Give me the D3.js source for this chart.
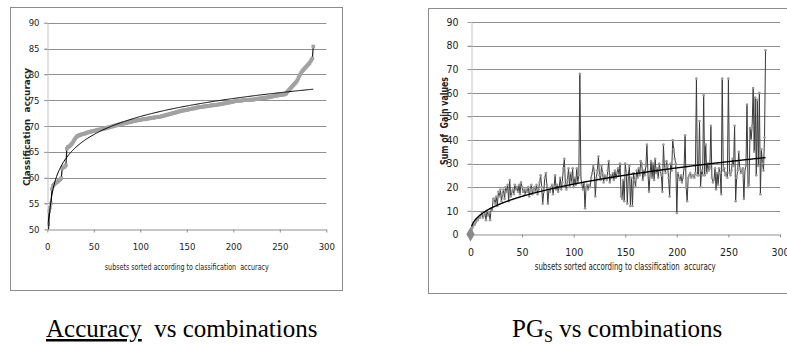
<!DOCTYPE html>
<html>
<head>
<meta charset="utf-8">
<script src="https://cdn.jsdelivr.net/npm/d3@7"></script>
<style>
  body { margin: 0; background: #fff; }
  svg { display: block; }
  .tick-label { font-family: "Liberation Sans Narrow", "DejaVu Sans Condensed", "Liberation Sans", sans-serif; fill: #222; }
  .axis-title { font-family: "Liberation Sans Narrow", "DejaVu Sans Condensed", "Liberation Sans", sans-serif; fill: #222; }
  .caption { font-family: "Liberation Serif", "Times New Roman", serif; fill: #000; }
</style>
</head>
<body>
<svg id="fig" width="787" height="344"></svg>
<script>
// sorted classification accuracy of the 286 subsets (x = 1..286)
const accuracy = [
  51.0, 53.5, 54.2, 55.0, 57.8,
  58.4, 58.6, 58.8, 59.0, 59.1, 59.2, 59.4, 59.5, 59.7, 59.9,
  61.8, 62.0, 62.0, 62.2, 62.4,
  65.6, 65.9, 66.0, 66.1, 66.3, 66.5, 66.7,
  67.0, 67.3, 67.6, 67.8, 68.0, 68.1, 68.2,
  68.3, 68.3, 68.4, 68.4, 68.5, 68.5, 68.6,
  68.7, 68.7, 68.8, 68.8, 68.9, 68.9, 69.0, 69.0, 69.0, 69.1, 69.1,
  69.2, 69.2, 69.3, 69.3, 69.3, 69.4, 69.4, 69.5, 69.5, 69.5, 69.6,
  69.6, 69.7, 69.7, 69.8, 69.8, 69.9, 69.9, 70.0, 70.0, 70.1, 70.1, 70.2, 70.2, 70.3,
  70.3, 70.4, 70.4, 70.5, 70.5, 70.5, 70.6, 70.6, 70.7, 70.7, 70.7, 70.8, 70.8, 70.9, 70.9,
  71.0, 71.0, 71.0, 71.1, 71.1, 71.1, 71.2, 71.2, 71.2, 71.3, 71.3, 71.3, 71.3, 71.4, 71.4, 71.4, 71.5, 71.5,
  71.5, 71.6, 71.6, 71.6, 71.6, 71.7, 71.7, 71.7, 71.7, 71.8, 71.8, 71.8, 71.9, 71.9,
  72.0, 72.0, 72.1, 72.1, 72.2, 72.2, 72.3, 72.3, 72.4, 72.4, 72.5, 72.5, 72.6, 72.6, 72.7, 72.7, 72.8, 72.8,
  72.9, 72.9, 73.0, 73.0, 73.0, 73.1, 73.1, 73.1, 73.2, 73.2, 73.3, 73.3, 73.3, 73.4, 73.4, 73.4, 73.5, 73.5, 73.6,
  73.6, 73.6, 73.7, 73.7, 73.7, 73.7, 73.8, 73.8, 73.8, 73.8, 73.9, 73.9, 73.9, 73.9, 74.0, 74.0, 74.0, 74.0, 74.1, 74.1, 74.1, 74.1, 74.2, 74.2, 74.2,
  74.3, 74.3, 74.3, 74.4, 74.4, 74.4, 74.5, 74.5, 74.5, 74.6, 74.6, 74.6, 74.7, 74.7,
  74.8, 74.8, 74.8, 74.8, 74.9, 74.9, 74.9, 74.9, 74.9, 75.0, 75.0, 75.0, 75.0, 75.0, 75.0, 75.0, 75.0, 75.1, 75.1, 75.1, 75.1, 75.1, 75.2, 75.2, 75.2,
  75.3, 75.3, 75.3, 75.3, 75.4, 75.4, 75.4, 75.4, 75.5, 75.5, 75.5, 75.5, 75.6, 75.6, 75.6, 75.7, 75.7, 75.8,
  75.8, 75.8, 75.9, 75.9, 75.9, 76.0, 76.0, 76.0, 76.0, 76.1, 76.1, 76.1, 76.2, 76.3,
  76.6, 76.8, 77.0, 77.2, 77.4, 77.6,
  77.8, 78.0, 78.2, 78.4, 78.6,
  78.9, 79.3, 79.7, 80.0, 80.3, 80.6, 80.8,
  81.0, 81.2, 81.4, 81.6, 81.8, 82.0, 82.2,
  82.5, 82.8, 83.1,
  85.4
];

// sum of gain values (PGs) in the same order (x = 0..286)
const gainSums = [
  0,
  2, 3, 4, 4, 5, 6, 6, 7, 7, 8,
  9, 7, 8, 9, 6, 10, 8, 9, 6, 11,
  10, 15, 15, 13, 16, 12, 18, 16, 19, 14,
  17, 19, 15, 20, 18, 21, 14, 23, 16, 18,
  19, 17, 21, 19, 20, 18, 21, 17, 22, 20,
  18, 19, 17, 19, 18, 20, 16, 19, 21, 17,
  19, 20, 18, 21, 17, 19, 22, 25, 20, 13,
  18, 24, 26, 21, 13, 19, 18, 20, 21, 17,
  20, 25, 19, 21, 18, 20, 24, 19, 22, 28,
  32, 21, 19, 23, 28, 20, 26, 22, 28, 20,
  24, 21, 28, 22, 25, 68, 24, 21, 19, 22,
  11, 20, 21, 19, 21, 20, 24, 26, 29, 27,
  16, 24, 27, 33, 25, 23, 29, 26, 22, 25,
  24, 23, 27, 31, 22, 25, 24, 26, 23, 27,
  24, 26, 28, 25, 30, 16, 15, 23, 14, 30,
  26, 13, 25, 29, 12, 24, 12, 26, 23, 20,
  27, 24, 28, 25, 31, 30, 23, 27, 25, 29,
  38, 26, 18, 25, 31, 24, 30, 23, 32, 26,
  28, 24, 30, 27, 25, 18, 38, 28, 26, 31,
  29, 24, 16, 30, 27, 40, 36, 32, 30, 9,
  26, 24, 23, 25, 22, 24, 28, 42, 20, 14,
  24, 25, 26, 24, 25, 25, 24, 26, 66, 25,
  25, 48, 20, 27, 25, 59, 25, 38, 26, 30,
  27, 28, 46, 24, 22, 23, 28, 19, 26, 21,
  28, 26, 17, 66, 27, 28, 25, 26, 24, 66,
  26, 25, 27, 32, 29, 46, 14, 24, 27, 35,
  28, 26, 27, 28, 15, 27, 29, 55, 20, 21,
  45, 40, 46, 62, 35, 58, 25, 57, 29, 60,
  17, 36, 30, 27, 41, 78
];

const xTicks = [0, 50, 100, 150, 200, 250, 300];
const accYTicks = [50, 55, 60, 65, 70, 75, 80, 85, 90];
const gainYTicks = [0, 10, 20, 30, 40, 50, 60, 70, 80, 90];

const xTitle = 'subsets sorted according to classification  accuracy';
const accYTitle = 'Classification  accuracy';
const gainYTitle = 'Sum of  Gain values';

const svg = d3.select('#fig');

// Excel style trend lines, fitted from the data
function logFit(pts) {
  const p = pts.filter(d => d[0] > 0);
  const lx = p.map(d => Math.log(d[0]));
  const mx = d3.mean(lx), my = d3.mean(p, d => d[1]);
  const a = d3.sum(p, (d, i) => (lx[i] - mx) * (d[1] - my)) / d3.sum(lx, v => (v - mx) ** 2);
  const b = my - a * mx;
  return x => a * Math.log(x) + b;
}

function powerFit(pts) {
  const p = pts.filter(d => d[0] > 0 && d[1] > 0);
  const lx = p.map(d => Math.log(d[0])), ly = p.map(d => Math.log(d[1]));
  const mx = d3.mean(lx), my = d3.mean(ly);
  const k = d3.sum(lx, (v, i) => (v - mx) * (ly[i] - my)) / d3.sum(lx, v => (v - mx) ** 2);
  const c = Math.exp(my - k * mx);
  return x => c * Math.pow(x, k);
}

function drawPanel(cfg) {
  const g = svg.append('g');

  g.append('rect')
    .attr('x', cfg.box[0] + 0.5).attr('y', cfg.box[1] + 0.5)
    .attr('width', cfg.box[2]).attr('height', cfg.box[3])
    .attr('fill', '#fff').attr('stroke', '#8c8c8c');

  const x = d3.scaleLinear().domain([0, 300]).range([cfg.left, cfg.right]);
  const y = d3.scaleLinear().domain(cfg.yDomain).range([cfg.bottom, cfg.top]);

  // horizontal gridlines
  g.append('g')
    .selectAll('line')
    .data(cfg.yTicks.filter(t => t !== cfg.yDomain[0]))
    .join('line')
    .attr('x1', cfg.left - 3).attr('x2', cfg.right)
    .attr('y1', d => Math.round(y(d)) + 0.5).attr('y2', d => Math.round(y(d)) + 0.5)
    .attr('stroke', '#8f8f8f').attr('stroke-width', 1.2);

  // y axis
  const yAxis = g.append('g')
    .attr('transform', `translate(${Math.round(cfg.left) + 0.5},0)`)
    .call(d3.axisLeft(y).tickValues(cfg.yTicks).tickSize(3).tickPadding(cfg.yPad));
  yAxis.select('.domain').attr('stroke', '#c4c4c4');
  yAxis.selectAll('.tick line').attr('stroke', '#a0a0a0');
  yAxis.selectAll('.tick text').attr('class', 'tick-label')
    .style('font-size', cfg.tickFont + 'px').attr('fill', '#222');

  // x axis
  const xAxis = g.append('g')
    .attr('transform', `translate(0,${Math.round(cfg.bottom) + 0.5})`)
    .call(d3.axisBottom(x).tickValues(xTicks).tickSize(3).tickSizeOuter(0).tickPadding(11));
  xAxis.select('.domain').attr('stroke', '#8f8f8f').attr('stroke-width', 1.2);
  xAxis.selectAll('.tick line').attr('stroke', '#8f8f8f');
  xAxis.selectAll('.tick text').attr('class', 'tick-label')
    .style('font-size', cfg.tickFont + 'px').attr('fill', '#222');

  // axis titles
  g.append('text')
    .attr('class', 'axis-title')
    .attr('x', (cfg.left + cfg.right) / 2).attr('y', cfg.xTitleY)
    .attr('text-anchor', 'middle')
    .attr('textLength', cfg.xTitleLen).attr('lengthAdjust', 'spacingAndGlyphs')
    .style('font-size', cfg.titleFont + 'px')
    .style('white-space', 'pre')
    .text(xTitle);

  g.append('text')
    .attr('class', 'axis-title')
    .attr('transform', `translate(${cfg.yTitleX},${cfg.yTitleY}) rotate(-90)`)
    .attr('text-anchor', 'middle')
    .attr('textLength', cfg.yTitleLen).attr('lengthAdjust', 'spacingAndGlyphs')
    .style('font-size', cfg.yTitleFont + 'px')
    .style('font-weight', 'bold')
    .style('white-space', 'pre')
    .text(cfg.yTitle);

  const clipId = 'clip-' + cfg.id;
  g.append('clipPath').attr('id', clipId)
    .append('rect')
    .attr('x', cfg.left).attr('y', cfg.top - 6)
    .attr('width', cfg.right - cfg.left + 6).attr('height', cfg.bottom - cfg.top + 6);

  const plot = g.append('g').attr('clip-path', `url(#${clipId})`);
  const line = d3.line().x(d => x(d[0])).y(d => y(d[1]));

  return { g, plot, x, y, line };
}

// ---- left panel: accuracy vs combinations ----
const accPts = accuracy.map((v, i) => [i + 1, v]);
const acc = drawPanel({
  id: 'acc',
  box: [10, 7, 332, 283],
  left: 47.3, right: 326.3, top: 22.7, bottom: 229.3,
  yDomain: [50, 90], yTicks: accYTicks, yPad: 5,
  tickFont: 9.5, titleFont: 9.5, yTitleFont: 9.5,
  xTitleY: 270, xTitleLen: 164,
  yTitle: accYTitle, yTitleX: 30, yTitleY: 127, yTitleLen: 118
});

acc.plot.append('path')
  .datum(accPts)
  .attr('d', acc.line)
  .attr('fill', 'none').attr('stroke', '#1a1a1a').attr('stroke-width', 1.2);

acc.plot.append('g')
  .selectAll('rect')
  .data(accPts)
  .join('rect')
  .attr('x', d => acc.x(d[0]) - 1.8).attr('y', d => acc.y(d[1]) - 1.8)
  .attr('width', 3.6).attr('height', 3.6)
  .attr('fill', '#a2a2a2');

const accTrend = logFit(accPts);
acc.plot.append('path')
  .datum(accPts.map(d => [d[0], accTrend(d[0])]))
  .attr('d', acc.line)
  .attr('fill', 'none').attr('stroke', '#000').attr('stroke-width', 1);

// ---- right panel: PGs vs combinations ----
const gainPts = gainSums.map((v, i) => [i, v]);
const gain = drawPanel({
  id: 'gain',
  box: [428, 8, 370, 285],
  left: 470.5, right: 780, top: 22, bottom: 234.3,
  yDomain: [0, 90], yTicks: gainYTicks, yPad: 10,
  tickFont: 10.5, titleFont: 10, yTitleFont: 10,
  xTitleY: 270, xTitleLen: 181,
  yTitle: gainYTitle, yTitleX: 448, yTitleY: 121, yTitleLen: 88
});

gain.plot.append('path')
  .datum(gainPts)
  .attr('d', gain.line)
  .attr('fill', 'none').attr('stroke', '#3a3a3a').attr('stroke-width', 1);

gain.plot.append('g')
  .selectAll('circle')
  .data(gainPts.slice(1))
  .join('circle')
  .attr('cx', d => gain.x(d[0])).attr('cy', d => gain.y(d[1]))
  .attr('r', 1.3)
  .attr('fill', '#9a9a9a');

const gainTrend = powerFit(gainPts);
gain.plot.append('path')
  .datum(gainPts.slice(1).map(d => [d[0], gainTrend(d[0])]))
  .attr('d', gain.line)
  .attr('fill', 'none').attr('stroke', '#000').attr('stroke-width', 1.4);

// first point drawn as a diamond
gain.g.append('path')
  .datum(gainPts[0])
  .attr('transform', d => `translate(${gain.x(d[0])},${gain.y(d[1])})`)
  .attr('d', d3.symbol(d3.symbolDiamond, 60))
  .attr('fill', '#8a8a8a');

// ---- captions ----
const capL = svg.append('text')
  .attr('class', 'caption')
  .attr('x', 46).attr('y', 337)
  .style('font-size', '25px')
  .style('white-space', 'pre');
capL.append('tspan').attr('text-decoration', 'underline').text('Accuracy');
capL.append('tspan').text('  vs combinations');

const capR = svg.append('text')
  .attr('class', 'caption')
  .attr('x', 512).attr('y', 337)
  .style('font-size', '25px')
  .style('white-space', 'pre');
capR.append('tspan').text('PG');
capR.append('tspan').attr('dy', 5).style('font-size', '16px').text('S');
capR.append('tspan').attr('dy', -5).text(' vs combinations');
</script>
</body>
</html>
